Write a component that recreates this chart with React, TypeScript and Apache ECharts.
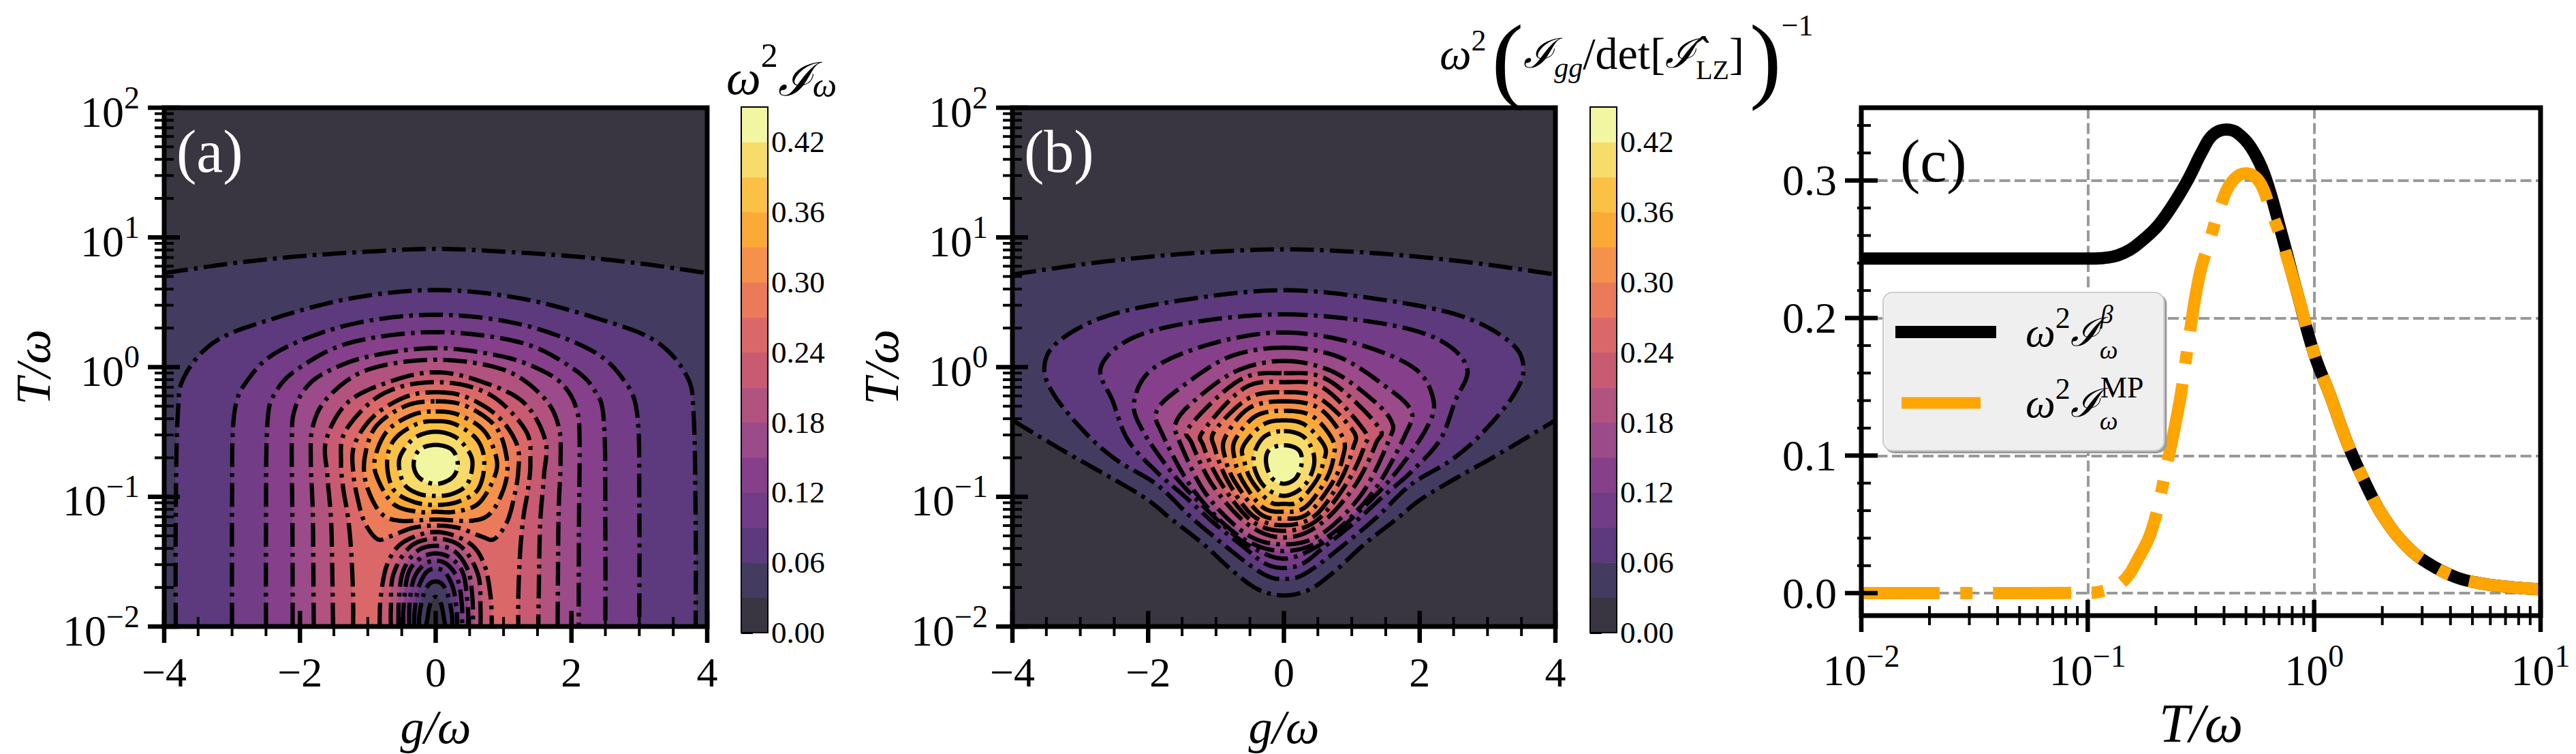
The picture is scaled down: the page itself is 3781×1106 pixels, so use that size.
import React, { useEffect, useRef } from "react";
import * as echarts from "echarts";

const SERIF = "'Liberation Serif','DejaVu Serif',serif";

// band colours of the contour levels (0.00-0.03 ... 0.42-0.45)
const bandColors = ["#393641","#443b60","#5c3a7d","#733c87","#863f8a","#9b4a8a","#b1527f","#c85a72","#db6868","#eb7a5a","#f5914a","#fba937","#fbc146","#f7dc6c","#f2f6a0"];
const bandEdges = [0,0.03,0.06,0.09,0.12,0.15,0.18,0.21,0.24,0.27,0.3,0.33,0.36,0.39,0.42,0.45];
const colorbarTicks = [0,0.06,0.12,0.18,0.24,0.3,0.36,0.42];

// Panel (a): half contours, g >= 0, as [g, log10(T)], from apex downward
const a03 = [[0,0.912],[1,0.89],[2,0.855],[3,0.8],[4,0.725]];
const a06 = [[0,0.594],[1.25,0.53],[2.45,0.364],[3.25,0.197],[3.7,-0.07],[3.8,-0.37],[3.83,-1.2],[3.83,-2]];
const a09 = [[0,0.404],[1.25,0.33],[2.29,0.13],[2.77,-0.1],[2.97,-0.37],[3,-1.04],[3,-2]];
const a12 = [[0,0.27],[1.25,0.19],[2,-0.003],[2.35,-0.187],[2.48,-0.437],[2.5,-1.3],[2.5,-2]];
const a15 = [[0,0.147],[1,0.08],[1.61,-0.038],[1.913,-0.16],[2.08,-0.333],[2.12,-0.559],[2.11,-1.253],[2.107,-2]];
const a18 = [[0,0.057],[1,-0.02],[1.58,-0.229],[1.81,-0.455],[1.84,-0.733],[1.81,-1.149],[1.796,-2]];
const a21 = [[0,-0.04],[0.6,-0.099],[1.278,-0.264],[1.612,-0.559],[1.595,-0.837],[1.545,-1.149],[1.528,-1.427],[1.512,-2]];
const a24 = [[0,-0.116],[0.51,-0.151],[0.943,-0.264],[1.344,-0.507],[1.395,-0.733],[1.361,-0.941],[1.294,-1.149],[1.244,-1.427],[1.217,-1.774],[1.217,-2]];
const a27 = [[0,-0.194],[0.44,-0.229],[0.91,-0.377],[1.194,-0.594],[1.217,-0.802],[1.144,-1.028],[1.043,-1.201],[0.86,-1.326],[0.676,-1.306],[0.34,-1.24],[0,-1.222]];
const a30 = [[0,-0.264],[0.44,-0.299],[0.876,-0.455],[1.04,-0.68],[1.03,-0.889],[0.826,-1.115],[0.54,-1.184],[0,-1.175]];
const a33 = [[0,-0.342],[0.34,-0.368],[0.71,-0.49],[0.893,-0.698],[0.86,-0.854],[0.625,-1.054],[0.274,-1.115],[0,-1.115]];
const a36 = [[0,-0.417],[0.29,-0.441],[0.61,-0.559],[0.716,-0.733],[0.625,-0.941],[0.34,-1.036],[0,-1.0625]];
const a39 = [[0,-0.498],[0.3,-0.542],[0.5,-0.663],[0.54,-0.767],[0.46,-0.906],[0.25,-0.976],[0,-0.993]];
const a42 = [[0,-0.6],[0.24,-0.637],[0.325,-0.75],[0.24,-0.854],[0,-0.901]];
// Panel (a): the dip at small T, contours descending towards g=0
const aDip24 = [[0,-1.271],[0.475,-1.349],[0.71,-1.514],[0.81,-1.774],[0.826,-2]];
const aDip21 = [[0,-1.323],[0.375,-1.384],[0.625,-1.601],[0.66,-1.861],[0.66,-2]];
const aDip18 = [[0,-1.378],[0.274,-1.418],[0.475,-1.566],[0.54,-1.774],[0.55,-2]];
const aDip15 = [[0,-1.436],[0.24,-1.479],[0.41,-1.6],[0.475,-1.861],[0.475,-2]];
const aDip12 = [[0,-1.493],[0.174,-1.523],[0.324,-1.635],[0.385,-1.826],[0.39,-2]];
const aDip09 = [[0,-1.554],[0.14,-1.583],[0.257,-1.705],[0.31,-1.878],[0.315,-2]];
const aDip06 = [[0,-1.653],[0.107,-1.679],[0.19,-1.774],[0.24,-1.913],[0.245,-2]];
const aDip03 = [[0,-1.771],[0.08,-1.826],[0.125,-1.948],[0.14,-2]];

// Panel (b)
const b03Top = [[0,0.908],[1,0.89],[2,0.85],[3,0.79],[4,0.714]];
const b03Low = [[0,-1.76],[0.38,-1.714],[0.766,-1.566],[1.184,-1.366],[1.67,-1.167],[2.12,-0.984],[3.2,-0.66],[4,-0.41]];
const b06 = [[0,0.593],[1.395,0.524],[2.6,0.396],[3.33,0.194],[3.53,-0.007],[3.37,-0.227],[2.9,-0.52],[2.455,-0.72],[1.87,-0.906],[1.385,-1.149],[0.933,-1.349],[0.48,-1.535],[0.2,-1.62],[0,-1.632]];
const b09 = [[0,0.407],[1.395,0.341],[2.28,0.212],[2.7,-0.007],[2.52,-0.264],[2.3,-0.56],[1.886,-0.802],[1.45,-1.002],[1.033,-1.201],[0.58,-1.392],[0.28,-1.514],[0,-1.549]];
const b12 = [[0,0.267],[1,0.19],[1.9,0.0],[2.2,-0.247],[2.1,-0.472],[1.585,-0.854],[0.933,-1.2],[0.515,-1.375],[0,-1.477]];
const b15 = [[0,0.15],[0.8,0.08],[1.5,-0.15],[1.87,-0.333],[1.8,-0.507],[1.318,-0.958],[0.65,-1.306],[0,-1.418]];
const b18 = [[0,0.048],[0.7,-0.03],[1.3,-0.25],[1.585,-0.42],[1.55,-0.559],[1.15,-0.976],[0.55,-1.288],[0,-1.366]];
const b21 = [[0,-0.047],[0.65,-0.099],[1.385,-0.455],[1.351,-0.594],[1.033,-0.924],[0.515,-1.219],[0,-1.314]];
const b24 = [[0,-0.116],[0.58,-0.16],[1.184,-0.49],[1.184,-0.61],[0.933,-0.889],[0.48,-1.184],[0,-1.262]];
const b27 = [[0,-0.194],[0.515,-0.238],[1.017,-0.49],[1.017,-0.628],[0.816,-0.889],[0.448,-1.149],[0,-1.219]];
const b30 = [[0,-0.264],[0.515,-0.316],[0.866,-0.542],[0.866,-0.698],[0.716,-0.889],[0.348,-1.132],[0,-1.167]];
const b33 = [[0,-0.337],[0.415,-0.377],[0.716,-0.559],[0.73,-0.698],[0.615,-0.872],[0.314,-1.08],[0,-1.115]];
const b36 = [[0,-0.411],[0.314,-0.446],[0.6,-0.611],[0.58,-0.733],[0.48,-0.872],[0.214,-1.036],[0,-1.054]];
const b39 = [[0,-0.493],[0.28,-0.533],[0.43,-0.655],[0.43,-0.785],[0.28,-0.924],[0,-0.993]];
const b42 = [[0,-0.602],[0.214,-0.637],[0.264,-0.733],[0.18,-0.854],[0,-0.899]];

// Panel (c): [T, value]
const betaCurve = [[0.01,0.2432],[0.03,0.2432],[0.1,0.2432],[0.115,0.2435],[0.13,0.2447],[0.145,0.2475],[0.159,0.2512],[0.199,0.2651],[0.234,0.2806],[0.277,0.3006],[0.319,0.3207],[0.356,0.333],[0.41,0.337],[0.458,0.3346],[0.527,0.3238],[0.605,0.3037],[0.716,0.262],[0.845,0.2173],[1,0.174],[1.18,0.1432],[1.4,0.1093],[1.65,0.083],[2,0.0568],[2.58,0.0336],[3.22,0.0213],[4.26,0.0114],[5.6,0.0068],[7.45,0.0043],[10,0.0028]];
const mpCurve = [[0.01,0],[0.03,0],[0.1,0.0003],[0.1138,0.0012],[0.142,0.008],[0.168,0.0259],[0.193,0.0475],[0.222,0.0907],[0.255,0.14],[0.277,0.18],[0.31,0.2296],[0.347,0.2574],[0.387,0.2821],[0.433,0.2991],[0.498,0.3052],[0.573,0.2991],[0.64,0.279],[0.716,0.2574],[0.845,0.2173],[1,0.174],[1.18,0.1432],[1.4,0.1093],[1.65,0.083],[2,0.0568],[2.58,0.0336],[3.22,0.0213],[4.26,0.0114],[5.6,0.0068],[7.45,0.0043],[10,0.0028]];

const gMajor = [-4,-2,0,2,4];
const gMinor = [-3.5,-3,-2.5,-1.5,-1,-0.5,0.5,1,1.5,2.5,3,3.5];
const decades = [0.01,0.1,1,10,100];
const multiples = [2,3,4,5,6,7,8,9];
const cYMajor = [0,0.1,0.2,0.3];
const cYMinor = [0.02,0.04,0.06,0.08,0.12,0.14,0.16,0.18,0.22,0.24,0.26,0.28,0.32,0.34];

const mirror = (h: number[][]) => h.map(([g, l]) => [-g, l]);
const closedOf = (h: number[][]) => ({ pts: h.concat(mirror(h).reverse().slice(1, -1)), closed: true });
const openOf = (h: number[][]) => ({ pts: mirror(h).reverse().slice(0, -1).concat(h), closed: false });

function spline(p: number[][], closed: boolean) {
  const n = p.length, out: number[][] = [];
  const at = (i: number) => closed ? p[(i + n) % n] : p[Math.max(0, Math.min(n - 1, i))];
  const segs = closed ? n : n - 1;
  for (let i = 0; i < segs; i++) {
    const a = at(i - 1), b = at(i), c = at(i + 1), d = at(i + 2);
    for (let k = 0; k < 10; k++) {
      const t = k / 10, t2 = t * t, t3 = t2 * t;
      out.push([0, 1].map((j) => 0.5 * (2 * b[j] + (c[j] - a[j]) * t + (2 * a[j] - 5 * b[j] + 4 * c[j] - d[j]) * t2 + (3 * b[j] - a[j] - 3 * c[j] + d[j]) * t3)));
    }
  }
  out.push(closed ? out[0] : p[n - 1]);
  return out;
}
const px = (api: any, p: number[]) => api.coord([p[0], Math.pow(10, p[1])]);

function fillSeries(grid: number, fills: any[]) {
  return {
    type: "custom", xAxisIndex: grid, yAxisIndex: grid, coordinateSystem: "cartesian2d", silent: true, clip: true, z: 2,
    data: fills.map(() => [0, 1]),
    renderItem: (params: any, api: any) => {
      const f = fills[params.dataIndex];
      let pts: number[][] = [];
      f.curves.forEach((c: any) => { pts = pts.concat(spline(c.pts.map((q: number[]) => px(api, q)), c.closed)); });
      (f.extra || []).forEach((q: number[]) => pts.push(px(api, q)));
      return { type: "polygon", shape: { points: pts }, style: { fill: bandColors[f.band], stroke: bandColors[f.band], lineWidth: 1 } };
    },
  };
}
function lineSeries(grid: number, curves: any[]) {
  return {
    type: "custom", xAxisIndex: grid, yAxisIndex: grid, coordinateSystem: "cartesian2d", silent: true, clip: true, z: 3,
    data: curves.map(() => [0, 1]),
    renderItem: (params: any, api: any) => {
      const c = curves[params.dataIndex];
      const pts = spline(c.pts.map((q: number[]) => px(api, q)), c.closed);
      return { type: "polyline", shape: { points: pts }, style: { stroke: "#000", fill: null, lineWidth: 6.3, lineDash: [35, 9, 5.5, 9] } };
    },
  };
}
// frame (spines) and in-out tick marks
function frameSeries(grid: number, xTicks: any[], yTicks: any[], frameW: number) {
  const items = [["frame", 0, 0]].concat(xTicks.map((t) => ["x", t[0], t[1]])).concat(yTicks.map((t) => ["y", t[0], t[1]]));
  return {
    type: "custom", xAxisIndex: grid, yAxisIndex: grid, coordinateSystem: "cartesian2d", silent: true, z: 6,
    data: items.map(() => [0, 1]),
    renderItem: (params: any, api: any) => {
      const it = items[params.dataIndex];
      const cs = params.coordSys;
      const ls = (w: number) => ({ stroke: "#000", lineWidth: w, fill: null });
      if (it[0] === "frame") return { type: "rect", shape: { x: cs.x, y: cs.y, width: cs.width, height: cs.height }, style: ls(frameW) };
      const major = it[2] as any;
      if (it[0] === "x") {
        const p = api.coord([it[1], major.anchor]);
        return { type: "line", shape: { x1: p[0], x2: p[0], y1: cs.y + cs.height - major.inn, y2: cs.y + cs.height + major.out }, style: ls(major.w) };
      }
      const p = api.coord([major.anchor, it[1]]);
      return { type: "line", shape: { y1: p[1], y2: p[1], x1: cs.x - major.out, x2: cs.x + major.inn }, style: ls(major.w) };
    },
  };
}
function colorbarSeries(grid: number) {
  return {
    type: "custom", xAxisIndex: grid, yAxisIndex: grid, coordinateSystem: "cartesian2d", silent: true, z: 2,
    data: bandColors.map((_, i) => [0, bandEdges[i]]),
    renderItem: (params: any, api: any) => {
      const i = params.dataIndex;
      const a = api.coord([0, bandEdges[i + 1]]), b = api.coord([1, bandEdges[i]]);
      return { type: "rect", shape: { x: a[0], y: a[1], width: b[0] - a[0], height: b[1] - a[1] + 0.5 }, style: { fill: bandColors[i] } };
    },
  };
}

const panelCorners = [[4, 2], [-4, 2], [-4, -2]];
const fillsA = [
  { curves: [], extra: [[4, -2], ...panelCorners], band: 0 },
  { curves: [openOf(a03)], extra: [[4, -2], [-4, -2]], band: 1 },
  { curves: [openOf(a06)], band: 2 }, { curves: [openOf(a09)], band: 3 }, { curves: [openOf(a12)], band: 4 },
  { curves: [openOf(a15)], band: 5 }, { curves: [openOf(a18)], band: 6 }, { curves: [openOf(a21)], band: 7 },
  { curves: [openOf(a24)], band: 8 }, { curves: [closedOf(a27)], band: 9 }, { curves: [closedOf(a30)], band: 10 },
  { curves: [closedOf(a33)], band: 11 }, { curves: [closedOf(a36)], band: 12 }, { curves: [closedOf(a39)], band: 13 },
  { curves: [closedOf(a42)], band: 14 },
  { curves: [openOf(aDip24)], band: 7 }, { curves: [openOf(aDip21)], band: 6 }, { curves: [openOf(aDip18)], band: 5 },
  { curves: [openOf(aDip15)], band: 4 }, { curves: [openOf(aDip12)], band: 3 }, { curves: [openOf(aDip09)], band: 2 },
  { curves: [openOf(aDip06)], band: 1 }, { curves: [openOf(aDip03)], band: 0 },
];
const linesA = [a03, a06, a09, a12, a15, a18, a21, a24, aDip24, aDip21, aDip18, aDip15, aDip12, aDip09, aDip06, aDip03].map(openOf)
  .concat([a27, a30, a33, a36, a39, a42].map(closedOf) as any);
const revCurve = (c: any) => ({ pts: c.pts.slice().reverse(), closed: c.closed });
const fillsB = [
  { curves: [], extra: [[4, -2], ...panelCorners], band: 0 },
  { curves: [openOf(b03Top), revCurve(openOf(b03Low))], band: 1 },
  ...[b06, b09, b12, b15, b18, b21, b24, b27, b30, b33, b36, b39, b42].map((h, i) => ({ curves: [closedOf(h)], band: i + 2 })),
];
const linesB = [b03Top, b03Low].map(openOf).concat([b06, b09, b12, b15, b18, b21, b24, b27, b30, b33, b36, b39, b42].map(closedOf) as any);

const maj = { inn: 23, out: 24, w: 6.5 };
const min = { inn: 14, out: 14, w: 4 };
const gTicks = [...gMajor.map((v) => [v, { ...maj, anchor: 1 }]), ...gMinor.map((v) => [v, { ...min, anchor: 1 }])];
const tTicks = [...decades.map((v) => [v, { ...maj, anchor: -4 }]),
  ...decades.slice(0, -1).flatMap((d) => multiples.map((m) => [d * m, { ...min, anchor: -4 }]))];
const cXTicks = [...decades.slice(0, 4).map((v) => [v, { ...maj, anchor: 0 }]),
  ...decades.slice(0, 3).flatMap((d) => multiples.map((m) => [d * m, { ...min, anchor: 0 }]))];
const cYMin = -0.0163, cYMax = 0.3529;
const cYTicks = [...cYMajor.map((v) => [v, { inn: 24, out: 24, w: 6.5, anchor: 0.01 }]), ...cYMinor.map((v) => [v, { inn: 14, out: 6, w: 4, anchor: 0.01 }])];

const expLabel = (v: number) => {
  const e = Math.round(Math.log10(v));
  return `{b|10}{s|${e < 0 ? "\u2212" + -e : e}}`;
};
const expRich = {
  b: { fontFamily: SERIF, fontSize: 64, lineHeight: 76, verticalAlign: "bottom", color: "#000" },
  s: { fontFamily: SERIF, fontSize: 46, lineHeight: 76, verticalAlign: "top", color: "#000" },
};
const nameStyle = (size: number) => ({ fontFamily: SERIF, fontStyle: "italic", fontSize: size, color: "#000" });
const gAxis = (grid: number) => ({
  type: "value", gridIndex: grid, min: -4, max: 4, interval: 2,
  name: "g/\u03C9", nameLocation: "middle", nameGap: 112, nameTextStyle: nameStyle(70),
  axisLine: { show: false }, axisTick: { show: false }, splitLine: { show: false },
  axisLabel: { margin: 36, fontFamily: SERIF, fontSize: 62, color: "#000", formatter: (v: number) => String(v).replace("-", "\u2212") },
});
const tAxis = (grid: number) => ({
  type: "log", logBase: 10, gridIndex: grid, min: 0.01, max: 100,
  name: "T/\u03C9", nameLocation: "middle", nameGap: 156, nameTextStyle: nameStyle(72),
  axisLine: { show: false }, axisTick: { show: false }, splitLine: { show: false }, minorTick: { show: false },
  axisLabel: { margin: 36, formatter: expLabel, rich: expRich },
});
const cbX = (grid: number) => ({ type: "value", gridIndex: grid, min: 0, max: 1, show: false });
const cbY = (grid: number) => ({
  type: "value", gridIndex: grid, min: 0, max: 0.45, position: "right",
  axisLine: { show: false }, splitLine: { show: false },
  axisTick: { show: true, length: 17, customValues: colorbarTicks, lineStyle: { color: "#000", width: 4 } },
  axisLabel: { margin: 5, customValues: colorbarTicks, fontFamily: SERIF, fontSize: 45, color: "#000", formatter: (v: number) => v.toFixed(2) },
});
const textStyleBase = { fontFamily: SERIF, fill: "#000" };
const DJ = "'DejaVu Serif',serif";
const titleARich = {
  w: { fontFamily: SERIF, fontStyle: "italic", fontSize: 72, lineHeight: 94, verticalAlign: "bottom" },
  i: { fontFamily: DJ, fontStyle: "italic", fontSize: 68, lineHeight: 94, verticalAlign: "bottom" },
  s: { fontFamily: SERIF, fontSize: 50, lineHeight: 94, verticalAlign: "top" },
  u: { fontFamily: SERIF, fontStyle: "italic", fontSize: 50, lineHeight: 94, verticalAlign: "bottom" },
};
const titleBRich = {
  w: { fontFamily: SERIF, fontStyle: "italic", fontSize: 66, lineHeight: 140, verticalAlign: "middle", padding: [0, 0, 14, 0] },
  i: { fontFamily: DJ, fontStyle: "italic", fontSize: 60, lineHeight: 140, verticalAlign: "middle", padding: [0, 0, 14, 0] },
  t: { fontFamily: SERIF, fontSize: 66, lineHeight: 140, verticalAlign: "middle", padding: [0, 0, 14, 0] },
  s: { fontFamily: SERIF, fontSize: 44, lineHeight: 140, verticalAlign: "top", padding: [22, 0, 0, 0] },
  e: { fontFamily: SERIF, fontSize: 44, lineHeight: 140, verticalAlign: "top" },
  u: { fontFamily: SERIF, fontStyle: "italic", fontSize: 42, lineHeight: 140, verticalAlign: "middle", padding: [28, 0, 0, 0] },
  r: { fontFamily: SERIF, fontSize: 40, lineHeight: 140, verticalAlign: "middle", padding: [34, 0, 0, 0] },
  p: { fontFamily: SERIF, fontSize: 140, lineHeight: 140, verticalAlign: "middle", padding: [0, 0, 0, 8] },
};
const legendNames = ["\u03C9\u00B2\u2110\u03C9\u03B2", "\u03C9\u00B2\u2110\u03C9MP"];
const legendRich = {
  w: { fontFamily: SERIF, fontStyle: "italic", fontSize: 62, lineHeight: 90, verticalAlign: "middle", color: "#000", padding: [0, 0, 0, 38] },
  i: { fontFamily: DJ, fontStyle: "italic", fontSize: 58, lineHeight: 90, verticalAlign: "middle", color: "#000" },
  s: { fontFamily: SERIF, fontSize: 44, lineHeight: 90, verticalAlign: "top", color: "#000", padding: [2, 0, 0, 0] },
  d: { fontFamily: SERIF, fontStyle: "italic", fontSize: 38, lineHeight: 90, verticalAlign: "bottom", color: "#000", width: 1, align: "left" },
  u: { fontFamily: SERIF, fontStyle: "italic", fontSize: 38, lineHeight: 90, verticalAlign: "top", color: "#000" },
  m: { fontFamily: SERIF, fontSize: 44, lineHeight: 90, verticalAlign: "top", color: "#000" },
};
const gridLine = { show: true, lineStyle: { color: "#999", width: 4, type: [16, 6.5] } };

const option: any = {
  animation: false,
  backgroundColor: "#fff",
  grid: [
    { left: 241, top: 158, width: 797, height: 768 },
    { left: 1088, top: 157, width: 39, height: 771 },
    { left: 1486, top: 158, width: 797, height: 768 },
    { left: 2334, top: 157, width: 39, height: 771 },
    { left: 2732, top: 158, width: 997, height: 768 },
  ],
  xAxis: [gAxis(0), cbX(1), gAxis(2), cbX(3), {
    type: "log", logBase: 10, gridIndex: 4, min: 0.01, max: 10,
    name: "T/\u03C9", nameLocation: "middle", nameGap: 118, nameTextStyle: nameStyle(80),
    axisLine: { show: false }, axisTick: { show: false }, minorTick: { show: false },
    splitLine: gridLine,
    axisLabel: { margin: 36, formatter: expLabel, rich: expRich },
  }],
  yAxis: [tAxis(0), cbY(1), tAxis(2), cbY(3), {
    type: "value", gridIndex: 4, min: cYMin, max: cYMax,
    axisLine: { show: false },
    axisTick: { show: false, customValues: cYMajor },
    splitLine: gridLine,
    axisLabel: { margin: 36, customValues: cYMajor, fontFamily: SERIF, fontSize: 64, color: "#000", formatter: (v: number) => v.toFixed(1) },
  }],
  legend: {
    left: 2764, top: 429, z: 5, orient: "vertical", itemWidth: 148, itemHeight: 18, itemGap: 14,
    padding: [13, 30, 25, 18], backgroundColor: "rgba(244,244,244,0.93)", borderColor: "#ccc", borderWidth: 2, borderRadius: 14,
    shadowBlur: 1, shadowOffsetX: 3, shadowOffsetY: 3, shadowColor: "#999",
    data: [
      { name: legendNames[0], icon: "rect", itemStyle: { color: "#000" } },
      { name: legendNames[1], icon: "path://M0 0L0 17L0 0ZM9 0H125V17H9ZM148 0L148 17L148 0Z", itemStyle: { color: "#ffa500" } },
    ],
    formatter: (n: string) => n === legendNames[0]
      ? "{w|\u03C9}{s|2}{i|\u2110}{d|\u03C9}{u|\u03B2}"
      : "{w|\u03C9}{s|2}{i|\u2110}{d|\u03C9}{m|MP}",
    textStyle: { rich: legendRich },
  },
  series: [
    fillSeries(0, fillsA), lineSeries(0, linesA), frameSeries(0, gTicks, tTicks, 7),
    colorbarSeries(1), frameSeries(1, [], [], 2),
    fillSeries(2, fillsB), lineSeries(2, linesB), frameSeries(2, gTicks, tTicks, 7),
    colorbarSeries(3), frameSeries(3, [], [], 2),
    { type: "line", name: legendNames[0], xAxisIndex: 4, yAxisIndex: 4, data: betaCurve, symbol: "none", smooth: 0.4, clip: true, z: 3,
      lineStyle: { color: "#000", width: 18, cap: "butt" }, itemStyle: { color: "#000" } },
    { type: "line", name: legendNames[1], xAxisIndex: 4, yAxisIndex: 4, data: mpCurve, symbol: "none", smooth: 0.4, clip: true, z: 4,
      lineStyle: { color: "#ffa500", width: 18, cap: "butt", type: [115, 30, 18, 30] }, itemStyle: { color: "#ffa500" } },
    frameSeries(4, cXTicks, cYTicks, 7),
  ],
  graphic: [
    { type: "text", x: 259, y: 178, z: 20, style: { text: "(a)", font: `88px ${SERIF}`, fill: "#fff" } },
    { type: "text", x: 1503, y: 178, z: 20, style: { text: "(b)", font: `88px ${SERIF}`, fill: "#fff" } },
    { type: "text", x: 2789, y: 192, z: 20, style: { text: "(c)", font: `88px ${SERIF}`, fill: "#000" } },
    { type: "text", x: 1066, y: 56, z: 20, style: { ...textStyleBase, text: "{w|\u03C9}{s|2}{i|\u2110}{u|\u03C9}", rich: titleARich } },
    { type: "text", x: 2113, y: 15, z: 20, style: { ...textStyleBase, text: "{w|\u03C9}{s|2}{p|(}{i|\u2110}{u|gg}{t|/det[}{i|\u2110\u0302}{r|LZ}{t|]}{p|)}{e|\u22121}", rich: titleBRich } },
  ],
};

export default function App() {
  const ref = useRef<HTMLDivElement>(null);
  useEffect(() => {
    const chart = echarts.init(ref.current!, null, { renderer: "svg" });
    chart.setOption(option);
    return () => chart.dispose();
  }, []);
  return <div ref={ref} style={{ position: "absolute", left: 0, top: 0, width: 3781, height: 1106 }} />;
}
